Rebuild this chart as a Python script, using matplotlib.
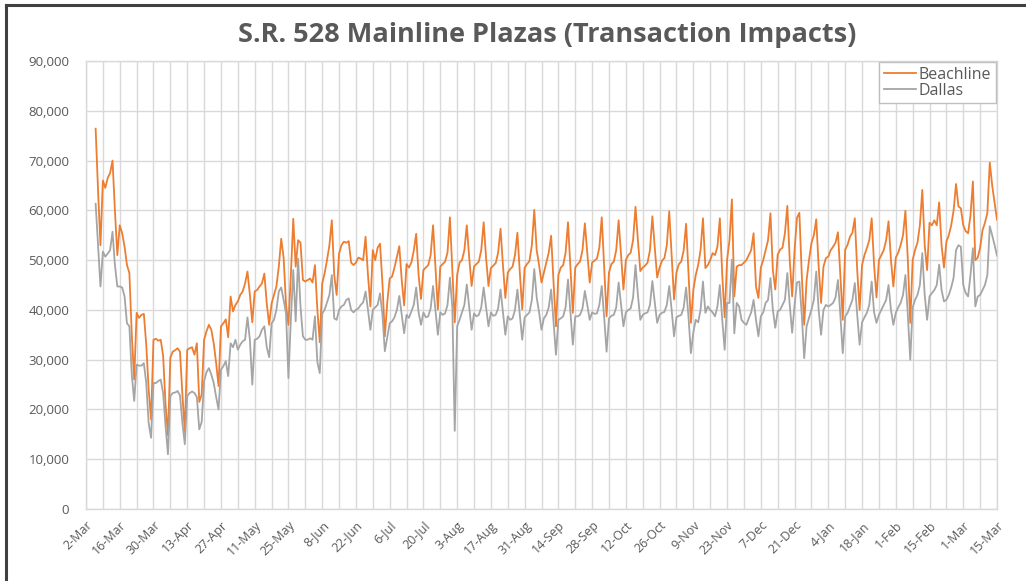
import numpy as np
import matplotlib
matplotlib.use("Agg")
import matplotlib.pyplot as plt
from matplotlib.lines import Line2D
from matplotlib.ticker import FuncFormatter

title = "S.R. 528 Mainline Plazas (Transaction Impacts)"
series_names = ["Beachline", "Dallas"]

# first plotted day = days after 2-Mar (axis starts at 2-Mar, ends at 15-Mar)
first_day = 4
axis_days = 378

# daily transactions (thousands), one line per week (Mon..Sun)
beachline_k = [
    76.4, 64, 53,
    66, 64.5, 66.5, 67.5, 70, 60, 51,
    57, 55.4, 52.7, 49, 47.4, 35, 26,
    39.4, 38.4, 39, 39.2, 33, 24, 18,
    34, 34.2, 33.8, 34, 30.8, 21, 14.8,
    30.4, 31.6, 31.9, 32.3, 31.6, 23, 15.6,
    32, 32.3, 32.5, 31, 33.3, 21.5, 23,
    34, 35.7, 37, 36, 33.3, 29.3, 24.7,
    36.7, 37.3, 38.1, 34.5, 42.7, 39.7, 41,
    41.7, 43, 43.7, 45.3, 47.7, 43, 37.5,
    43.7, 44, 44.7, 45.3, 47.3, 41.3, 37,
    41.3, 43, 44.7, 48.7, 54.3, 50.5, 41,
    37, 47, 58.3, 48.7, 54, 53.5, 46,
    45.7, 46, 46.3, 45.5, 49, 40, 33.5,
    45.3, 47.3, 50, 53, 58, 47, 43,
    51.3, 53, 53.7, 53.5, 53.8, 49.5, 49,
    49.5, 50.5, 50.3, 50, 54.7, 47, 40.7,
    52, 50, 52.5, 53.3, 45.3, 34.7, 41.5,
    46.3, 46.7, 48.5, 50.7, 52.8, 46, 40.9,
    49.2, 48.5, 49.5, 51.9, 55.3, 47, 42.2,
    48, 48.5, 49, 51, 57, 48.5, 40.1,
    48.7, 49.2, 49.7, 51.5, 58.6, 48, 37.5,
    47, 49.5, 50, 52, 57, 50.5, 44.8,
    48.7, 49.2, 49.7, 52, 57.6, 50.5, 44.8,
    48.4, 48.9, 49.4, 51.5, 56.3, 49, 42.4,
    47.5, 48.2, 48.7, 51, 55.5, 47.5, 40.1,
    48.5, 49.2, 49.8, 53, 60.1, 52, 49,
    45.5, 47.5, 49.5, 51.5, 54.9, 45.5, 36.7,
    47, 48.5, 49, 51.5, 57.6, 48.5, 39.4,
    48.5, 49.2, 49.7, 52, 57.4, 51.5, 45.5,
    49.5, 49.9, 50.3, 52.5, 58.6, 48.7, 38.7,
    47.5, 49.2, 49.7, 52, 58, 51, 44.1,
    50, 51, 51.5, 54, 60.7, 54, 47.8,
    48.5, 48.9, 49.5, 52, 58.8, 52.5, 46.5,
    48.5, 49.9, 50.4, 53, 59.8, 51, 42.1,
    47.5, 49.2, 49.7, 52, 57.3, 47.5, 37.4,
    44, 47, 49, 52, 58.4, 48.4, 49,
    50, 51.4, 51, 52.7, 58.4, 47, 38.5,
    50, 54, 62.2, 42.7, 48.7, 49, 49,
    49.5, 50, 51, 52, 55.4, 44.7, 42.4,
    48.5, 50, 52, 54, 59.4, 48, 44.1,
    51.1, 52.1, 52.5, 55.4, 60.9, 50, 42.7,
    52, 58.5, 59.5, 47, 37, 46, 50,
    53.4, 55, 58.2, 48.7, 41.4, 48.7, 50.4,
    50.7, 52, 52.7, 53.5, 55.6, 47, 38,
    52.1, 53.1, 54.7, 55.5, 58.4, 48, 40,
    49, 51, 52.4, 54, 58.4, 49, 42.5,
    50, 51, 52, 54, 57.8, 50, 44.7,
    50.5, 51.5, 53, 55, 59.9, 50, 37.4,
    50, 52, 53.5, 57, 64.1, 53, 48,
    57.5, 57, 58, 57, 61.6, 53, 48.5,
    53.7, 55, 57, 60, 65.3, 60.8, 60.4,
    57, 55.8, 55.4, 59, 65.8, 50, 50.5,
    52.5, 56, 57.5, 59.5, 69.6, 65, 61.5,
    58.1,
]

dallas_k = [
    61.3, 53, 44.7,
    51.7, 50.7, 51.3, 52, 55.7, 49, 44.7,
    44.7, 44.5, 42.7, 37.3, 36.7, 27, 21.7,
    29, 28.8, 28.8, 29.3, 25.3, 17.3, 14.3,
    25.3, 25.3, 25.7, 26, 23.3, 16.7, 11,
    22.7, 23.3, 23.4, 23.7, 22.8, 17.3, 13,
    22.7, 23.3, 23.6, 23.3, 22.5, 16, 17.5,
    25.7, 27.5, 28.3, 27, 25.3, 22.5, 20,
    28, 28.7, 29.7, 26.7, 33.3, 32.5, 34,
    32, 33, 33.7, 34, 38.5, 34, 25,
    34, 34.2, 34.7, 36, 36.7, 32.5, 30.5,
    37.3, 38, 40, 43.7, 44.5, 42, 39.3,
    26.3, 38, 48, 37.7, 50.3, 40.7, 34.7,
    34, 34, 34.3, 34, 38.7, 29.5, 27.3,
    39.3, 40, 41.5, 43, 47, 38.3, 38,
    40, 40.7, 41, 42, 42.3, 40, 39.5,
    40, 40.3, 41, 41.5, 43.7, 40, 36,
    40, 40.5, 41, 43.3, 39, 31.7, 34.5,
    37.3, 37.7, 38.5, 40, 42.8, 39, 35.3,
    39, 38.4, 39.7, 41, 44.5, 39.5, 37,
    39.5, 38.5, 38.7, 40.3, 44.8, 40, 35,
    39.5, 39, 39.3, 41, 46.5, 40.5, 15.7,
    36.7, 38, 39.5, 41, 45.1, 40.5, 36,
    39.3, 38.7, 39, 40.5, 44.5, 40.5, 36.7,
    39.5, 38.8, 39, 40.3, 44.1, 39.5, 35,
    38.7, 38, 38.3, 40, 44.1, 39, 34,
    38.5, 39, 39.5, 42, 48.2, 42.5, 39.5,
    36, 38.3, 39, 40.5, 44.1, 37.5, 31,
    38, 38.3, 38.7, 40.5, 46.1, 39.5, 33,
    38.7, 38.7, 39, 40.3, 43.8, 41, 38,
    39.5, 39.2, 39.3, 41, 44.8, 38.5, 31.6,
    38.3, 38.8, 39, 40.5, 45.5, 41, 36.7,
    39.5, 40, 40.3, 42.5, 49, 43, 38,
    39, 39.3, 39.5, 41, 45.8, 41.5, 37.4,
    39, 39.4, 39.6, 41, 44.8, 40, 34.7,
    38.5, 38.8, 39, 40.5, 44.5, 38.5, 31.3,
    35.5, 38, 37.5, 40, 45.7, 39.4, 40.7,
    40, 39.5, 38.7, 40.7, 45, 38, 32,
    41.4, 41.4, 50.1, 35.3, 41.4, 40.7, 38,
    37.4, 37, 38.3, 39.5, 42, 38, 34.7,
    38.7, 39.5, 41.4, 42, 46.4, 40, 36.4,
    39.7, 40, 41, 42, 47.4, 41, 35.4,
    41, 45.5, 45.7, 39, 30.3, 36.7, 38.4,
    40, 42, 47.7, 40, 35, 40, 41,
    40.7, 41, 41.4, 42.5, 46, 39, 31.3,
    38.7, 39.4, 40.7, 42, 45.4, 39, 33,
    37.5, 38.5, 39.4, 41, 45.7, 39.5, 37.4,
    39, 40, 41, 42, 45, 40, 37,
    39.4, 40.5, 41.4, 43, 47, 39, 30,
    40.5, 42, 43, 45, 51.4, 43, 38,
    42.7, 43.4, 44, 45, 49.1, 44, 41.7,
    42, 43, 44.5, 46.5, 52, 53, 52.7,
    45, 43.4, 42.7, 47, 52.4, 40.7, 42.7,
    43, 44, 45, 47, 56.8, 55, 53,
    50.9,
]

x_tick_labels = ["2-Mar", "16-Mar", "30-Mar", "13-Apr", "27-Apr", "11-May",
                 "25-May", "8-Jun", "22-Jun", "6-Jul", "20-Jul", "3-Aug",
                 "17-Aug", "31-Aug", "14-Sep", "28-Sep", "12-Oct", "26-Oct",
                 "9-Nov", "23-Nov", "7-Dec", "21-Dec", "4-Jan", "18-Jan",
                 "1-Feb", "15-Feb", "1-Mar", "15-Mar"]
y_ticks = list(range(0, 90001, 10000))

colors = ["#ED7D31", "#A5A5A5"]
text_color = "#595959"
grid_color = "#D9D9D9"
font = "Open Sans"

fig = plt.figure(figsize=(10.26, 5.81), dpi=100)
ax = fig.add_axes([86 / 1026, 1 - 509 / 581, (997 - 86) / 1026, (509 - 61) / 581])

days = np.arange(first_day, first_day + len(beachline_k))
ax.plot(days, np.array(beachline_k) * 1000, color=colors[0], lw=1.3,
        label=series_names[0], zorder=3)
ax.plot(days, np.array(dallas_k) * 1000, color=colors[1], lw=1.3,
        label=series_names[1], zorder=4)

ax.set_xlim(0, axis_days)
ax.set_ylim(0, 90000)
ax.set_yticks(y_ticks)
ax.yaxis.set_major_formatter(FuncFormatter(lambda v, p: f"{v:,.0f}"))
ax.set_xticks(np.arange(0, axis_days + 1, 14))
ax.set_xticklabels(x_tick_labels, rotation=45, ha="right",
                   rotation_mode="anchor", fontfamily=font, fontsize=9,
                   color=text_color)
ax.set_xticks(np.arange(0, axis_days + 1, 7), minor=True)
for lab in ax.get_yticklabels():
    lab.set_fontfamily(font)
    lab.set_fontsize(9.5)
    lab.set_color(text_color)

ax.grid(True, which="both", axis="x", color=grid_color, lw=1.0, zorder=0)
ax.grid(True, which="major", axis="y", color=grid_color, lw=1.0, zorder=0)
ax.set_axisbelow(True)
ax.tick_params(axis="both", which="both", length=0)
ax.tick_params(axis="y", pad=12)
ax.tick_params(axis="x", pad=7)
for s in ax.spines.values():
    s.set_color(grid_color)
    s.set_linewidth(1.0)

leg = ax.legend(loc="upper right", bbox_to_anchor=(0.9985, 0.998),
                frameon=True, fancybox=False, edgecolor="#BFBFBF",
                framealpha=1, borderaxespad=0, handlelength=2.0,
                handletextpad=0.15, labelspacing=0.0, borderpad=0.3,
                prop={"family": font, "size": 11.5})
leg.get_frame().set_linewidth(1.0)
for t in leg.get_texts():
    t.set_color(text_color)

fig.text(0.533, 1 - 35 / 581, title, ha="center", va="center",
         fontfamily=font, fontweight="bold", fontsize=19.5, color=text_color)

# outer frame of the screenshot
fig.add_artist(Line2D([6 / 1026, 6 / 1026], [0, 1 - 5 / 581],
                      transform=fig.transFigure, color="#404040", lw=2.2))
fig.add_artist(Line2D([6 / 1026, 1], [1 - 5 / 581, 1 - 5 / 581],
                      transform=fig.transFigure, color="#404040", lw=2.2))

fig.savefig("out.png", dpi=100)
